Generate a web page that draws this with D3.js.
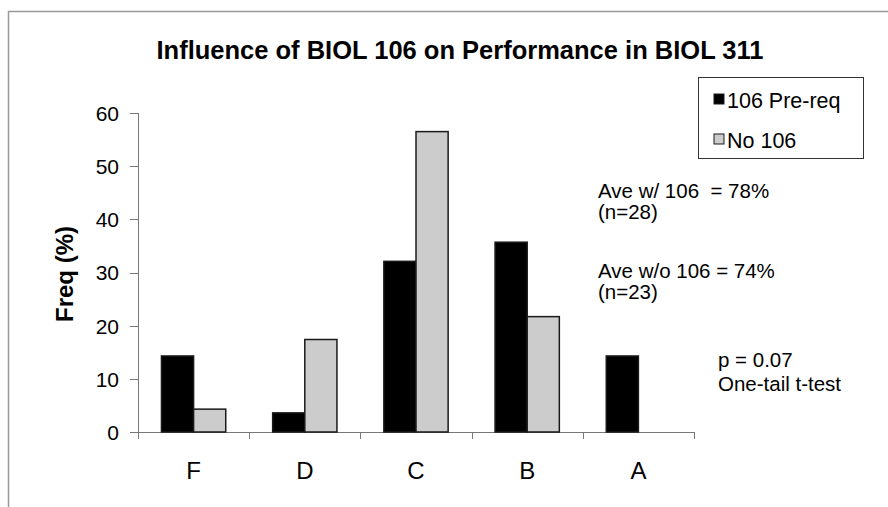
<!DOCTYPE html>
<html lang="en">
<head>
    <meta charset="UTF-8">
    <title>Influence of BIOL 106</title>
    <script src="https://cdnjs.cloudflare.com/ajax/libs/d3/7.8.5/d3.min.js"></script>
    <style>
        body { margin: 0; background: #fff; }
        svg text { font-family: "Liberation Sans", Arial, Helvetica, sans-serif; fill: #000; white-space: pre; }
        .axis path, .axis line { stroke: #777; shape-rendering: crispEdges; }
    </style>
</head>
<body>
<div id="my_dataviz"></div>
<script>
    // grades and the two groups (percent of students)
    var grades = ["F", "D", "C", "B", "A"];
    var seriesNames = ["106 Pre-req", "No 106"];
    var withPrereq = [14.3, 3.6, 32.1, 35.7, 14.3];   // n=28
    var noPrereq = [4.3, 17.4, 56.5, 21.7, 0];        // n=23
    var yTicks = [0, 10, 20, 30, 40, 50, 60];
    var notes = ["Ave w/ 106  = 78%", "(n=28)", "Ave w/o 106 = 74%", "(n=23)"];
    var testNotes = ["p = 0.07", "One-tail t-test"];

    var width = 888, height = 507;
    var margin = { top: 113, right: 194, bottom: 75, left: 138 };

    var svg = d3.select("#my_dataviz")
        .append("svg")
        .attr("width", width)
        .attr("height", height);

    // frame lines (top + left edge of the slide)
    svg.append("line").attr("x1", 8).attr("x2", width).attr("y1", 11.5).attr("y2", 11.5)
        .attr("stroke", "#999").attr("stroke-width", 1.5);
    svg.append("line").attr("x1", 8.5).attr("x2", 8.5).attr("y1", 11).attr("y2", height)
        .attr("stroke", "#999").attr("stroke-width", 1.5);

    svg.append("text")
        .attr("x", 460).attr("y", 59)
        .attr("text-anchor", "middle")
        .style("font-size", "25.5px").style("font-weight", "bold")
        .text("Influence of BIOL 106 on Performance in BIOL 311");

    var data = grades.map(function (g, i) {
        return { grade: g, vals: [withPrereq[i], noPrereq[i]] };
    });

    var x0 = d3.scaleBand().domain(grades)
        .range([margin.left, width - margin.right]);
    var x1 = d3.scaleBand().domain(seriesNames)
        .range([0, x0.bandwidth()]).paddingOuter(0.73);
    var y = d3.scaleLinear().domain([0, 60])
        .range([height - margin.bottom, margin.top]);
    var colors = d3.scaleOrdinal().domain(seriesNames).range(["#000000", "#cccccc"]);

    // y axis
    var yAxis = svg.append("g").attr("class", "axis")
        .attr("transform", "translate(" + margin.left + ",0)")
        .call(d3.axisLeft(y).tickValues(yTicks).tickSize(8).tickPadding(11));
    yAxis.selectAll("text").style("font-size", "21px").attr("dy", "0.35em");

    // x axis: ticks on band boundaries
    var xAxis = svg.append("g").attr("class", "axis")
        .attr("transform", "translate(0," + y(0) + ")");
    xAxis.append("line")
        .attr("x1", margin.left).attr("x2", width - margin.right)
        .attr("y1", 0.5).attr("y2", 0.5);
    var bounds = grades.map(function (g) { return x0(g); }).concat([x0(grades[grades.length - 1]) + x0.bandwidth()]);
    xAxis.selectAll(".btick").data(bounds).enter().append("line")
        .attr("x1", function (d) { return Math.round(d) + 0.5; })
        .attr("x2", function (d) { return Math.round(d) + 0.5; })
        .attr("y1", 0).attr("y2", 7);
    xAxis.selectAll(".glabel").data(grades).enter().append("text")
        .attr("x", function (d) { return x0(d) + x0.bandwidth() / 2; })
        .attr("y", 47)
        .attr("text-anchor", "middle")
        .style("font-size", "24px")
        .text(function (d) { return d; });

    // bars
    var groups = svg.selectAll(".grp").data(data).enter().append("g")
        .attr("transform", function (d) { return "translate(" + x0(d.grade) + ",0)"; });
    groups.selectAll("rect")
        .data(function (d) {
            return d.vals.map(function (v, i) { return { key: seriesNames[i], value: v }; });
        })
        .enter().append("rect")
        .filter(function (d) { return d.value > 0; })
        .attr("x", function (d) { return x1(d.key); })
        .attr("y", function (d) { return y(d.value); })
        .attr("width", x1.bandwidth())
        .attr("height", function (d) { return y(0) - y(d.value); })
        .attr("fill", function (d) { return colors(d.key); })
        .attr("stroke", "#1a1a1a")
        .attr("stroke-width", 1.5);

    // y label
    svg.append("text")
        .attr("transform", "translate(73,274) rotate(-90)")
        .attr("text-anchor", "middle")
        .style("font-size", "24px").style("font-weight", "bold")
        .text("Freq (%)");

    // legend
    var legend = svg.append("g");
    legend.append("rect")
        .attr("x", 698.5).attr("y", 77.5).attr("width", 165).attr("height", 81)
        .attr("fill", "#fff").attr("stroke", "#333").attr("stroke-width", 1);
    seriesNames.forEach(function (s, i) {
        legend.append("rect")
            .attr("x", 714).attr("y", 94 + i * 40).attr("width", 10).attr("height", 10)
            .attr("fill", colors(s)).attr("stroke", "#1a1a1a").attr("stroke-width", 1);
        legend.append("text")
            .attr("x", 727).attr("y", 108 + i * 40)
            .style("font-size", "21.5px")
            .text(s);
    });

    // notes
    var noteY = [198, 219, 278, 299];
    svg.selectAll(".note").data(notes).enter().append("text")
        .attr("x", 598)
        .attr("y", function (d, i) { return noteY[i]; })
        .style("font-size", "20.5px")
        .text(function (d) { return d; });
    svg.selectAll(".tnote").data(testNotes).enter().append("text")
        .attr("x", 718)
        .attr("y", function (d, i) { return 367 + i * 24; })
        .style("font-size", "20.5px")
        .text(function (d) { return d; });
</script>
</body>
</html>
